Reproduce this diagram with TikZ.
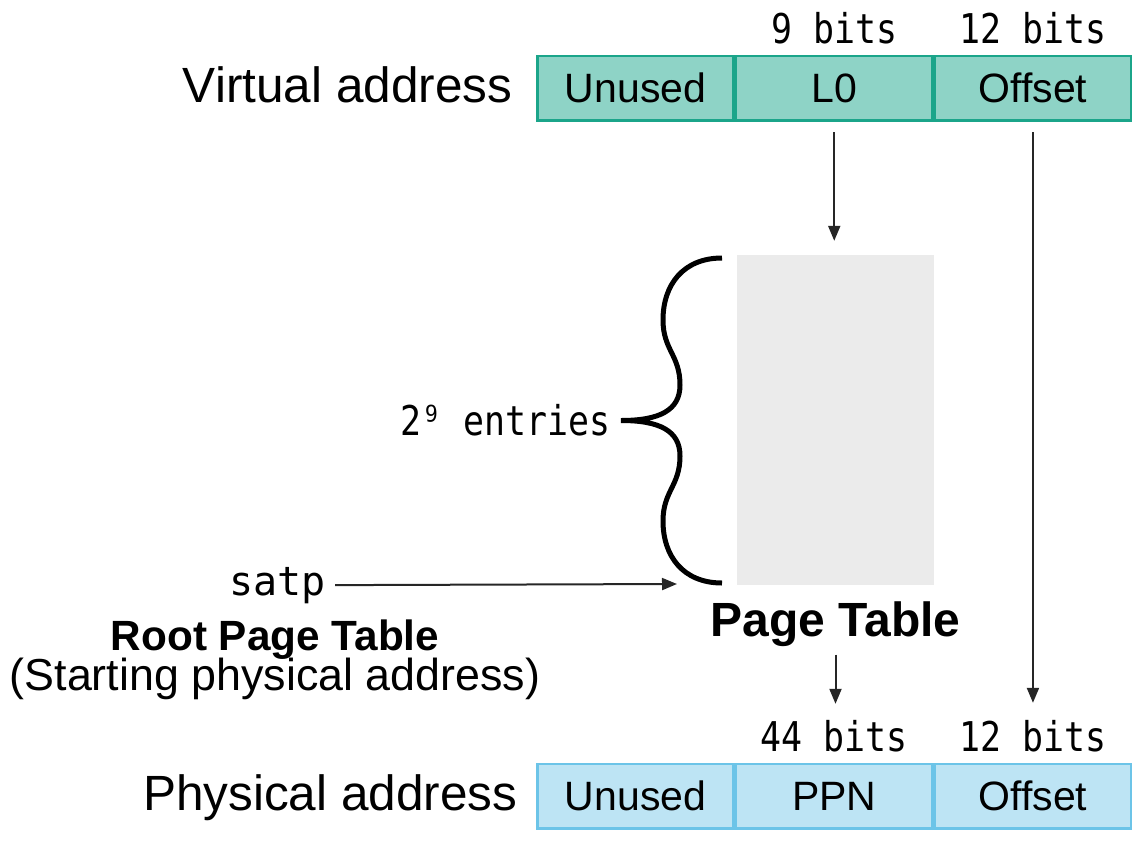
\documentclass[tikz,border=0pt]{standalone}
\usepackage{fontspec}
\setmainfont{Liberation Sans}
\newfontfamily\bitsfont[FakeStretch=0.85]{DejaVu Sans Mono}
\newfontfamily\satpfont{DejaVu Sans Mono}
\usetikzlibrary{arrows.meta,positioning}
\definecolor{vafill}{RGB}{142,211,198}
\definecolor{vadraw}{RGB}{27,165,138}
\definecolor{pafill}{RGB}{189,228,244}
\definecolor{padraw}{RGB}{108,196,232}
\definecolor{ptfill}{RGB}{235,235,235}
\tikzset{
  field/.style={minimum width=196.2pt,minimum height=64.5pt,inner sep=0pt,outer sep=0pt,line width=2.5pt,font=\fontsize{41}{41}\selectfont},
  bits/.style={font=\bitsfont\fontsize{41}{41}\selectfont},
  addr/.style={font=\fontsize{49.5}{49.5}\selectfont},
  flow/.style={line width=2pt,draw=black!85,-{Triangle[length=15pt,width=12pt]}},
}
\begin{document}
\begin{tikzpicture}[x=1pt,y=-1pt,inner sep=0pt]
\useasboundingbox (0,0) rectangle (1141,844);
\matrix (va) [anchor=north west,column sep=0pt,inner sep=0pt,nodes={field,draw=vadraw,fill=vafill}] at (536,54.5) {
  \node (vaU) {Unused};
 &\node (vaL) {L0};
 &\node (vaO) {Offset};\\
};
\matrix (pa) [anchor=north west,column sep=0pt,inner sep=0pt,nodes={field,draw=padraw,fill=pafill}] at (536,762.5) {
  \node (paU) {Unused};
 &\node (paP) {PPN};
 &\node (paO) {Offset};\\
};
\node[addr,base left=25pt of vaU] (vlbl) {Virtual address};
\node[addr,base left=20pt of paU] (plbl) {Physical address};
\node[bits,above=12pt of vaL] (vb1) {9 bits};
\node[bits,above=12pt of vaO] (vb2) {12 bits};
\node[bits,above=12pt of paP] (pb1) {44 bits};
\node[bits,above=12pt of paO] (pb2) {12 bits};
\node[fill=ptfill,minimum width=197pt,minimum height=330pt] (pt) at (835.5,420) {};
\node[font=\fontsize{48}{48}\bfseries,below=16pt of pt] (ptlbl) {Page Table};
\draw[line width=5pt] (722,258) .. controls (683,258) and (663,285) .. (663,320)
  .. controls (663,350) and (680,355) .. (680,385)
  .. controls (680,410) and (660,420.5) .. (621,420.5)
  .. controls (660,420.5) and (680,431) .. (680,456)
  .. controls (680,486) and (663,491) .. (663,521)
  .. controls (663,556) and (683,583) .. (722,583);
\coordinate (tip) at (621,420.5);
\node[bits,left=10pt of tip] (ent) {2⁹ entries};
\node[font=\satpfont\fontsize{40}{40}\selectfont,anchor=base east] (satp) at (326,595) {satp};
\coordinate (satpend) at (677,584);
\node[font=\fontsize{42.3}{42.3}\bfseries,anchor=base] (root) at (275,650) {Root Page Table};
\node[font=\fontsize{44.8}{44.8}\selectfont,anchor=base] (rootsub) at (275,690) {(Starting physical address)};
\draw[flow] ([yshift=-12pt]vaL.south) -- ([yshift=14pt]vaL.south |- pt.north);
\draw[flow] ([yshift=-12pt]vaO.south) -- ([yshift=17pt]vaO.south |- pb2.north);
\draw[flow] ([yshift=-8pt]ptlbl.south) -- ([yshift=16pt]ptlbl.south |- pb1.north);
\draw[flow] ([xshift=9pt]satp.east) -- (satpend);
\end{tikzpicture}
\end{document}
